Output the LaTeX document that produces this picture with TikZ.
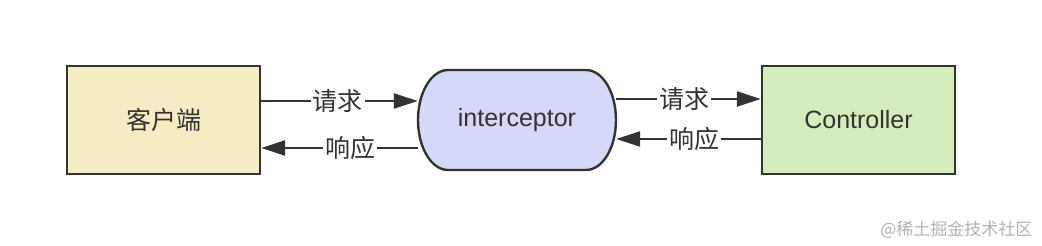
\documentclass[tikz,border=0pt]{standalone}
\usepackage{fontspec}
\setmainfont{Liberation Sans}
\newfontfamily\cjk{Noto Sans CJK SC}
\usetikzlibrary{arrows.meta}
\definecolor{edge}{HTML}{333333}
\definecolor{cfill}{HTML}{F4EDC4}
\definecolor{ifill}{HTML}{D5D8F7}
\definecolor{kfill}{HTML}{D4EDBB}
\begin{document}
\begin{tikzpicture}[x=1pt,y=-1pt,
  box/.style={draw=edge,line width=2.4pt,minimum width=193pt,minimum height=108pt,inner sep=0pt,font=\fontsize{25}{28}\selectfont,text=edge},
  conn/.style={draw=edge,line width=2.4pt,-{Triangle[length=24pt,width=15pt]}},
  lbl/.style={fill=white,inner sep=2pt,font=\cjk\fontsize{25}{28}\selectfont,text=edge}]
\useasboundingbox (0,0) rectangle (1042,246);
\node[box,fill=cfill] (client) at (163.5,120) {\cjk 客户端};
\node[box,fill=kfill] (ctrl) at (858.5,120) {Controller};
\node[minimum width=198pt,minimum height=100pt,inner sep=0pt] (inter) at (517,120) {};
\fill[ifill,draw=edge,line width=2.4pt]
  (448,70) -- (586,70) arc[start angle=-90,end angle=90,x radius=30,y radius=50]
  -- (448,170) arc[start angle=90,end angle=270,x radius=30,y radius=50] -- cycle;
\node[font=\fontsize{25}{28}\selectfont,text=edge] at (inter) {interceptor};
\coordinate (a1) at (client.east |- 0,101);
\coordinate (a2) at (inter.west |- 0,101);
\coordinate (b1) at (inter.west |- 0,148);
\coordinate (b2) at (client.east |- 0,148);
\coordinate (c1) at (inter.east |- 0,99);
\coordinate (c2) at (ctrl.west |- 0,99);
\coordinate (d1) at (ctrl.west |- 0,139);
\coordinate (d2) at (inter.east |- 0,139);
\draw[conn] (a1) -- node[lbl,pos=0.49] {请求} (a2);
\draw[conn] (b1) -- node[lbl,pos=0.43] {响应} (b2);
\draw[conn] (c1) -- node[lbl,pos=0.47] {请求} (c2);
\draw[conn] (d1) -- node[lbl,pos=0.46] {响应} (d2);
\node[font=\cjk\fontsize{17}{20}\selectfont,text=black!30,anchor=east] (wm) at (1036,230) {@稀土掘金技术社区};
\end{tikzpicture}
\end{document}
